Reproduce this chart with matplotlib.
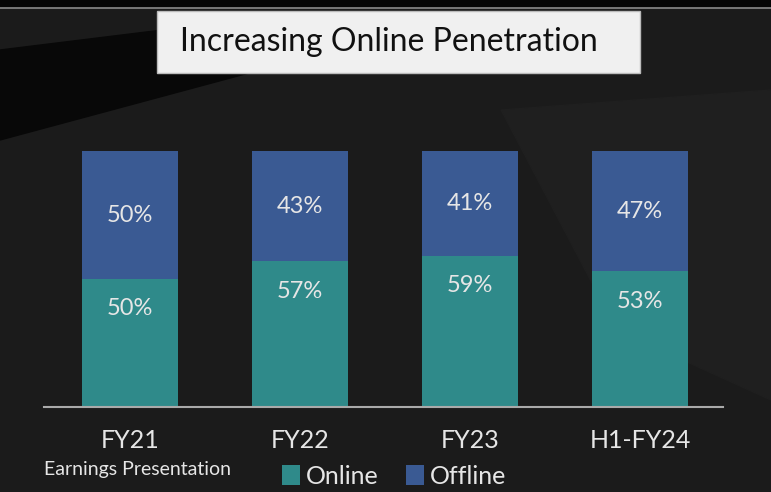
import numpy as np
import matplotlib.pyplot as plt
from matplotlib.patches import Polygon, Rectangle

plt.rcParams['font.family'] = ['Lato', 'DejaVu Sans']

# data
periods = ['FY21', 'FY22', 'FY23', 'H1-FY24']
online = [50, 57, 59, 53]
offline = [50, 43, 41, 47]

teal = '#2f8a8a'
navy = '#3a5a93'
txt = '#e6e6e6'

W, H = 771, 492
fig = plt.figure(figsize=(W / 100, H / 100), dpi=100)
fig.patch.set_facecolor('#1b1b1b')

# background decoration (dark slide photo)
fig.add_artist(Rectangle((0, 1 - 7 / H), 1, 7 / H, transform=fig.transFigure,
                         color='#050505', zorder=0))
fig.add_artist(plt.Line2D([0, 1], [1 - 8 / H, 1 - 8 / H], transform=fig.transFigure,
                          color='#8a8a8a', lw=1.2, zorder=1))
fig.add_artist(Polygon([(0, 1 - 50 / H), (260 / W, 1 - 18 / H), (260 / W, 1 - 70 / H),
                        (0, 1 - 140 / H)], transform=fig.transFigure,
                       color='#080808', zorder=0))
fig.add_artist(Polygon([(0.65, 1 - 110 / H), (1, 1 - 90 / H), (1, 1 - 400 / H),
                        (0.8, 1 - 330 / H)], transform=fig.transFigure,
                       color='#1f1f1f', zorder=0))

# title box
fig.add_artist(Rectangle((157 / W, 1 - 73 / H), 483 / W, 62 / H, transform=fig.transFigure,
                         facecolor='#f0f0f0', edgecolor='#bbbbbb', lw=1, zorder=2))
fig.text(180 / W, 1 - 42 / H, 'Increasing Online Penetration', fontsize=23,
         color='#111111', ha='left', va='center', zorder=3)

ax = fig.add_axes([44 / W, (H - 407) / H, (723 - 44) / W, 256 / H])
ax.set_facecolor('none')
x = np.arange(len(periods))
width = 0.565
b1 = ax.bar(x, online, width, color=teal, label='Online', zorder=2)
b2 = ax.bar(x, offline, width, bottom=online, color=navy, label='Offline', zorder=2)

for i in range(len(periods)):
    ax.text(x[i], online[i] - 11.7, f'{online[i]}%', ha='center', va='center',
            color=txt, fontsize=17)
    ax.text(x[i], online[i] + offline[i] / 2, f'{offline[i]}%', ha='center',
            va='center', color=txt, fontsize=17)

ax.set_xlim(-0.506, 3.488)
ax.set_ylim(0, 100)
for s in ['top', 'right', 'left']:
    ax.spines[s].set_visible(False)
ax.spines['bottom'].set_color('#aaaaaa')
ax.spines['bottom'].set_linewidth(1.5)
ax.set_yticks([])
ax.set_xticks(x)
ax.set_xticklabels(periods, fontsize=18, color=txt)
ax.tick_params(axis='x', length=0, pad=16)

fig.text(44 / W, 1 - 470 / H, 'Earnings Presentation', fontsize=14, color=txt,
         ha='left', va='center')
leg = fig.legend(handles=[b1, b2], loc='center left', bbox_to_anchor=(272 / W, 1 - 476 / H),
                 ncol=2, frameon=False, fontsize=18, labelcolor=txt, handlelength=0.7,
                 handleheight=0.9, handletextpad=0.25, columnspacing=1.1, borderaxespad=0)

fig.savefig('out.png', dpi=100, facecolor=fig.get_facecolor())
